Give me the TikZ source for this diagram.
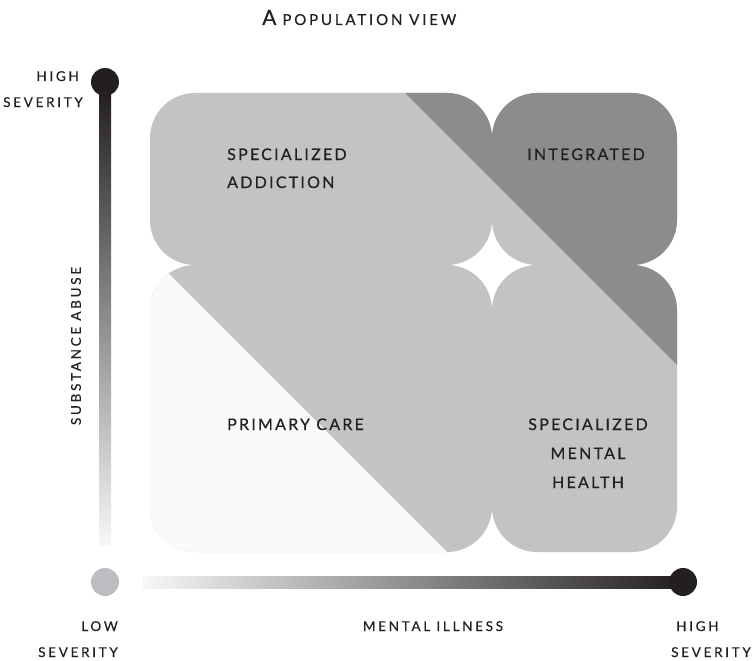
\documentclass[tikz,border=0pt]{standalone}
\usepackage{fontspec}
\newfontfamily\labfont[LetterSpace=14,FakeBold=0.4]{Lato}
\newfontfamily\axfont[LetterSpace=20,FakeBold=0.4]{Lato}
\newfontfamily\ttlfont[LetterSpace=19,FakeBold=0.4]{Lato}
\definecolor{midg}{HTML}{C2C3C5}
\definecolor{darkg}{HTML}{8B8C8E}
\definecolor{lightg}{HTML}{FAFAFA}
\definecolor{ink}{HTML}{231F20}
\definecolor{dotlight}{HTML}{BCBDC0}
\tikzset{
  lbl/.style={inner sep=0pt, text=ink, font=\labfont\fontsize{16}{16}\selectfont},
  axl/.style={inner sep=0pt, text=ink, font=\axfont\fontsize{13.5}{13.5}\selectfont},
}
\begin{document}
\begin{tikzpicture}[x=1pt,y=-1pt]
\useasboundingbox (0,0) rectangle (753,661);
% quadrants
\begin{scope}
  \clip[rounded corners=45pt] (150,93) rectangle (492,265)
        (492,93) rectangle (677,265)
        (150,265) rectangle (492,552)
        (492,265) rectangle (677,552);
  \fill[midg] (100,50) rectangle (720,600);
  \fill[darkg] (300,-12) -- (800,488) -- (800,-12) -- cycle;
  \fill[lightg] (100,205) -- (500,605) -- (100,605) -- cycle;
\end{scope}
% axes
\shade[top color=ink, bottom color=white!97!black] (99,90) rectangle (111,545);
\shade[left color=white!97!black, right color=ink] (143,576) rectangle (683,588);
\fill[ink] (105,82) circle (14);
\fill[dotlight] (105,582) circle (14);
\fill[ink] (683,582) circle (14);
% texts
\node[inner sep=0pt, text=ink, anchor=base west] (title) at (262,25)
  {\ttlfont\fontsize{21}{21}\selectfont A\hspace{6pt}\fontsize{15}{15}\selectfont POPULATION VIEW};
\node[lbl, anchor=base west] (sa1) at (227,160) {SPECIALIZED};
\node[lbl, anchor=base west] (sa2) at (227,188) {ADDICTION};
\node[lbl, anchor=base] (integ) at (586,160) {INTEGRATED};
\node[lbl, anchor=base west] (pc) at (227,430) {PRIMARY CARE};
\node[lbl, anchor=base] (sm1) at (588,430) {SPECIALIZED};
\node[lbl, anchor=base] (sm2) at (588,459) {MENTAL};
\node[lbl, anchor=base] (sm3) at (588,488) {HEALTH};
\node[axl, anchor=base east] (hs1) at (79,81) {HIGH};
\node[axl, anchor=base east] (hs2) at (83,107) {SEVERITY};
\node[axl, rotate=90] (sub) at (76,346) {SUBSTANCE ABUSE};
\node[axl, anchor=base east] (ls1) at (118,631) {LOW};
\node[axl, anchor=base east] (ls2) at (118,657) {SEVERITY};
\node[axl, anchor=base] (mi) at (433,631) {MENTAL ILLNESS};
\node[axl, anchor=base west] (hx1) at (676,631) {HIGH};
\node[axl, anchor=base west] (hx2) at (671,657) {SEVERITY};
\end{tikzpicture}
\end{document}
